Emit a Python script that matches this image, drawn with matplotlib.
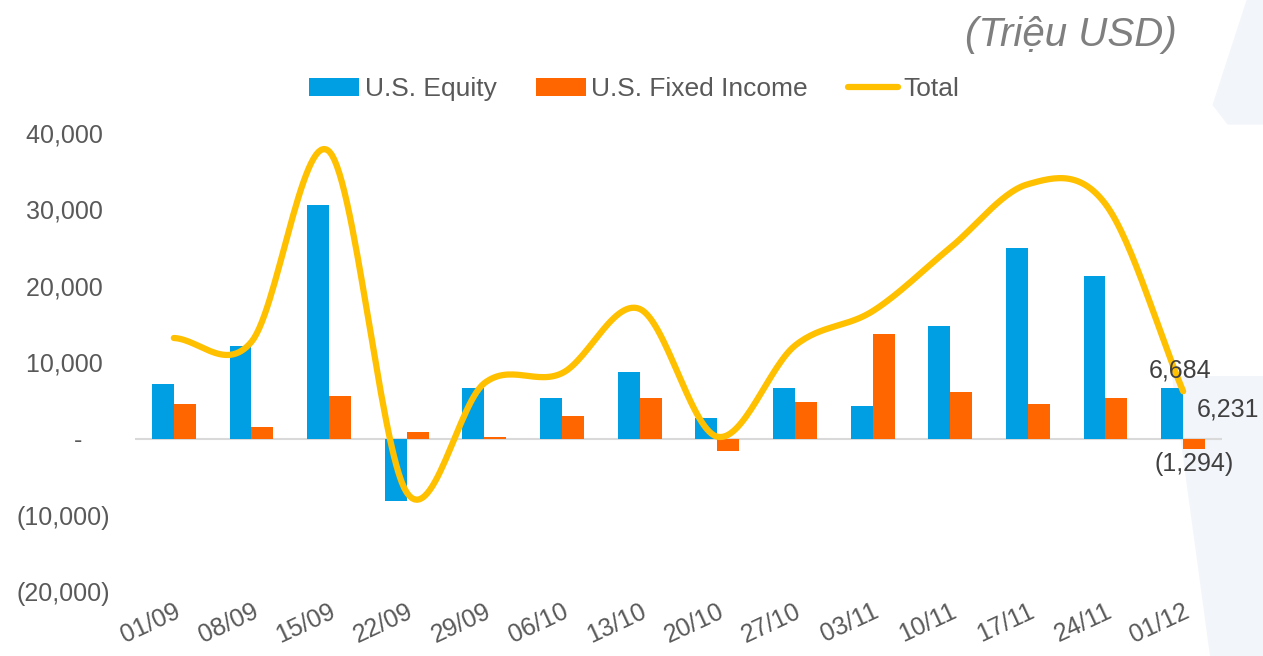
import matplotlib
matplotlib.use("Agg")
import matplotlib.pyplot as plt
import numpy as np
from matplotlib.patches import Polygon
from matplotlib.ticker import FixedLocator

plt.rcParams["font.family"] = ["Liberation Sans", "DejaVu Sans"]

# weekly flows, million USD
weeks = ["01/09", "08/09", "15/09", "22/09", "29/09", "06/10", "13/10",
         "20/10", "27/10", "03/11", "10/11", "17/11", "24/11", "01/12"]
us_equity = [7200, 12150, 30600, -8100, 6700, 5400, 8750,
             2800, 6700, 4300, 14800, 24900, 21300, 6684]
us_fixed_income = [4600, 1500, 5600, 950, 250, 3050, 5400,
                   -1600, 4850, 13750, 6200, 4600, 5400, -1294]
total = [13200, 12700, 37600, -7000, 7300, 8600, 17000,
         300, 12200, 16700, 25000, 33300, 30700, 6231]
yticks = [-20000, -10000, 0, 10000, 20000, 30000, 40000]

BLUE = "#009FE3"
ORANGE = "#FF6600"
GOLD = "#FFC000"
GREY = "#595959"


def _smooth(xs, ys, n=30):
    """Catmull-Rom curve through the points, like Excel's smoothed line."""
    p = np.column_stack([xs, ys]).astype(float)
    p = np.vstack([2 * p[0] - p[1], p, 2 * p[-1] - p[-2]])
    out = []
    t = np.linspace(0, 1, n, endpoint=False)[:, None]
    for i in range(1, len(p) - 2):
        p0, p1, p2, p3 = p[i - 1], p[i], p[i + 1], p[i + 2]
        seg = 0.5 * ((2 * p1) + (-p0 + p2) * t
                     + (2 * p0 - 5 * p1 + 4 * p2 - p3) * t ** 2
                     + (-p0 + 3 * p1 - 3 * p2 + p3) * t ** 3)
        out.append(seg)
    out.append(p[-2][None, :])
    out = np.vstack(out)
    return out[:, 0], out[:, 1]


fig = plt.figure(figsize=(12.63, 6.56), dpi=100)

# pale decorative shapes on the right edge, behind everything
fig.patches.append(Polygon([(0.987, 1.0), (1.0, 1.0), (1.0, 0.81), (0.972, 0.81),
                            (0.960, 0.84)], closed=True, transform=fig.transFigure,
                           facecolor="#F2F5FA", edgecolor="none", zorder=-5))
fig.patches.append(Polygon([(0.928, 0.427), (1.0, 0.427), (1.0, 0.0), (0.958, 0.0)],
                           closed=True, transform=fig.transFigure,
                           facecolor="#F2F5FA", edgecolor="none", zorder=-5))

ax = fig.add_axes([0.1069, 0.0976, 0.8606, 0.6997])
ax.set_facecolor("none")
ax.set_zorder(1)

x = np.arange(len(weeks))
w = 0.283
b1 = ax.bar(x - w / 2, us_equity, w, color=BLUE, label="U.S. Equity", zorder=2)
b2 = ax.bar(x + w / 2, us_fixed_income, w, color=ORANGE, label="U.S. Fixed Income", zorder=2)
sx, sy = _smooth(x, total)
ln, = ax.plot(sx, sy, color=GOLD, lw=4.5, solid_capstyle="round", label="Total", zorder=3)
ax.axhline(0, color="#D9D9D9", lw=1.5, zorder=1)

ax.set_xlim(-0.5, len(weeks) - 0.5)
ax.set_ylim(-20000, 40000)
ax.yaxis.set_major_locator(FixedLocator(yticks))


def _acct(v):
    if v == 0:
        return "-    "
    if v < 0:
        return f"({-v:,.0f})"
    return f"{v:,.0f} "


ax.set_yticklabels([_acct(v) for v in yticks], fontsize=18, color=GREY)
ax.set_xticks(x)
ax.set_xticklabels(weeks, rotation=25, ha="right", rotation_mode="anchor",
                   fontsize=18, color=GREY)
ax.tick_params(axis="y", length=0, pad=18)
ax.tick_params(axis="x", length=0, pad=5)
for s in ax.spines.values():
    s.set_visible(False)

# labels on the last week
last = len(weeks) - 1
ax.annotate(f"{us_equity[last]:,}", (last - w / 2, us_equity[last]), xytext=(6, 4),
            textcoords="offset points", ha="center", va="bottom", fontsize=18, color="#404040")
ax.annotate(f"{total[last]:,}", (last, total[last]), xytext=(10, -13),
            textcoords="offset points", ha="left", va="center", fontsize=18, color="#404040")
ax.annotate(f"({-us_fixed_income[last]:,})", (last + w / 2, us_fixed_income[last]),
            xytext=(0, -2), textcoords="offset points", ha="center", va="top",
            fontsize=18, color="#404040")

fig.legend([b1, b2, ln], ["U.S. Equity", "U.S. Fixed Income", "Total"],
           loc="center", bbox_to_anchor=(0.502, 0.864), ncol=3, frameon=False,
           fontsize=19, handlelength=1.9, handletextpad=0.2, columnspacing=1.5,
           labelcolor=GREY)
fig.text(0.932, 0.946, "(Triệu USD)", ha="right", va="center", fontsize=29,
         style="italic", color="#7F7F7F")

fig.savefig("out.png", dpi=100)
